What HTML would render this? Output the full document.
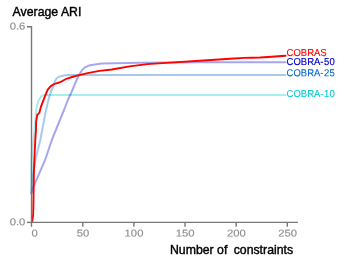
<!DOCTYPE html>
<html>
<head>
<meta charset="utf-8">
<title>Average ARI vs Number of constraints</title>
<style>
html,body{margin:0;padding:0;background:#fff;}
body{width:341px;height:262px;overflow:hidden;font-family:"Liberation Sans",sans-serif;}
svg{display:block;will-change:transform;}
svg text{font-family:"Liberation Sans",sans-serif;}
.tick{font-size:10px;fill:#8e8e8e;stroke:#8e8e8e;stroke-width:0.15px;}
.title{font-size:12.3px;fill:#000;stroke:#000;stroke-width:0.4px;}
.lbl{font-size:9.5px;}
</style>
</head>
<body>
<svg width="341" height="262" viewBox="0 0 341 262">
<rect width="341" height="262" fill="#fff"/>
<!-- series -->
<g fill="none" stroke-linejoin="round" stroke-linecap="round">
<path id="c10" stroke="#00ced1" stroke-opacity="0.35" stroke-width="2" d="M31.4,193 L31.6,160 L32.4,150 L33.5,140 L35,125 L35.9,114 L37,105.1 L38.4,101 L40,98.1 L41.2,96.3 L42.3,95.4 L44,95 L46,94.9 L285.5,94.9"/>
<path id="c25" stroke="#0066cc" stroke-opacity="0.35" stroke-width="2" d="M31.4,193 L33,175 L34.4,166 L36,157 L40.3,140 L45.2,114 L48.8,98.1 L51.6,90.2 L52.9,87.5 L54.6,81.9 L56.3,78.6 L58.7,76.8 L62.8,75.7 L67.5,75.1 L72,74.95 L285.5,74.95"/>
<path id="c50" stroke="#0000cd" stroke-opacity="0.35" stroke-width="2" d="M31.4,193 L33,188 L34.8,183.6 L37.7,177.1 L41.2,168.9 L44.8,160.7 L46.5,156 L51.8,140 L64,110 L67.8,100 L71.6,92 L76,81.3 L79.5,74.3 L81.9,70.4 L84.8,67.4 L88.9,65.6 L94.8,64.4 L101.8,63.6 L115.9,63.3 L140,62.8 L170,62.4 L200,62.2 L285.5,62.2"/>
<path id="cs" stroke="#ff0000" stroke-width="1.9" d="M32.1,222 L32.6,219 L33.2,214 L33.5,200 L33.9,172 L34.3,160 L35.3,140 L36,130 L36.1,121.7 L37.3,114.9 L38.3,113.8 L39.4,112.6 L41.1,106.3 L42.9,101.6 L45.2,95.7 L47.6,89.9 L50.5,86.4 L54.6,83.8 L59.2,82.5 L62.8,80.8 L66.3,78.8 L72.2,77 L78,75.4 L87.7,73.1 L99.5,70.9 L112,69.5 L116,68.7 L129.6,66.4 L147.2,64.1 L170,62.6 L200,60.7 L230,58.7 L244,57.9 L252,57.7 L260,57.5 L268,57 L285.5,55.75"/>
</g>
<!-- axes -->
<g stroke="#777" stroke-width="1.4" fill="none">
<path d="M27,26.7 H31.5 V222.4 H297.9"/>
<path d="M27,222.4 H31.5"/>
<path d="M31.5,222.4 V226.8 M82.8,222.4 V226.8 M133.9,222.4 V226.8 M185.05,222.4 V226.8 M236.2,222.4 V226.8 M287.3,222.4 V226.8"/>
</g>
<!-- tick labels -->
<g class="tick">
<text transform="translate(25.4,29.5) rotate(0.03) scale(1.13,1)" text-anchor="end">0.6</text>
<text transform="translate(25.4,225.2) rotate(0.03) scale(1.13,1)" text-anchor="end">0.0</text>
<text transform="translate(31.5,236.5) rotate(0.03) scale(1.13,1)" text-anchor="start">0</text>
<text transform="translate(82.9,236.5) rotate(0.03) scale(1.13,1)" text-anchor="middle">50</text>
<text transform="translate(134,236.5) rotate(0.03) scale(1.13,1)" text-anchor="middle">100</text>
<text transform="translate(185.2,236.5) rotate(0.03) scale(1.13,1)" text-anchor="middle">150</text>
<text transform="translate(236.4,236.5) rotate(0.03) scale(1.13,1)" text-anchor="middle">200</text>
<text transform="translate(287.6,236.5) rotate(0.03) scale(1.13,1)" text-anchor="middle">250</text>
</g>
<!-- titles -->
<text class="title" transform="translate(12.6,15.5) scale(1,1.044)">Average ARI</text>
<text class="title" transform="translate(293.1,254.2) scale(1,1.044)" text-anchor="end">Number of<tspan dx="2.9"> constraints</tspan></text>
<!-- series labels -->
<g class="lbl">
<text transform="translate(286.6,55.9) rotate(0.03) scale(1,1.06)" fill="#ff0000" stroke="#ff0000" stroke-width="0.12">COBRAS</text>
<text transform="translate(286.6,65.1) rotate(0.03) scale(1,1.06)" fill="#0000cd" stroke="#0000cd" stroke-width="0.15">COBRA<tspan letter-spacing="0.43">-50</tspan></text>
<text transform="translate(286.6,76.2) rotate(0.03) scale(1,1.06)" fill="#0066cc" stroke="#0066cc" stroke-width="0.1">COBRA<tspan letter-spacing="0.43">-25</tspan></text>
<text transform="translate(286.6,97.1) rotate(0.03) scale(1,1.06)" fill="#00ced1" stroke="#00ced1" stroke-width="0.1">COBRA<tspan letter-spacing="0.43">-10</tspan></text>
</g>
</svg>
</body>
</html>
